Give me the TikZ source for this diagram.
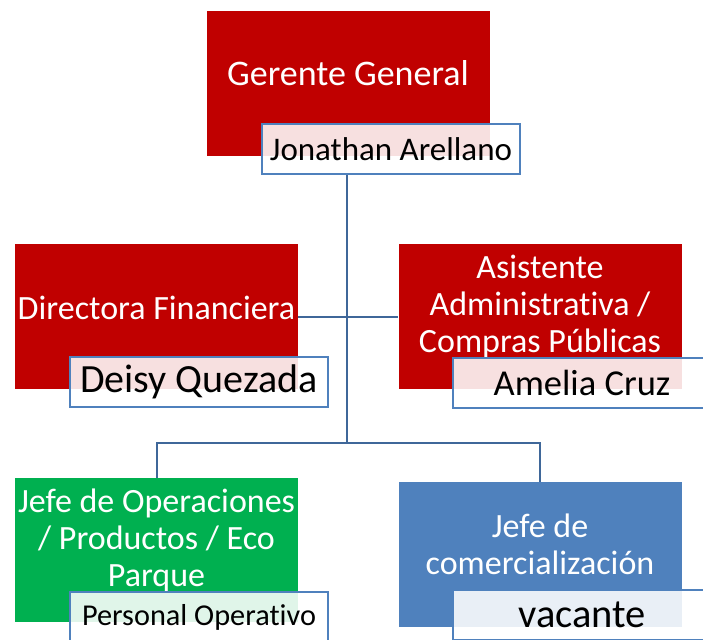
\documentclass[tikz,border=0pt]{standalone}
\usepackage{fontspec}
\setmainfont{Carlito}[Ligatures=NoCommon]
\usetikzlibrary{positioning}
\definecolor{cargored}{HTML}{C00000}
\definecolor{cargogreen}{HTML}{00B050}
\definecolor{cargoblue}{HTML}{4F81BD}
\definecolor{linkblue}{HTML}{3F6799}
\tikzset{cargo box/.style={rectangle,draw=none,minimum width=283pt,minimum height=145pt,inner sep=0pt},
         cargo text/.style={rectangle,text=white,align=center,inner sep=0pt,font=\fontsize{34}{37}\selectfont},
         name box/.style={rectangle,draw=cargoblue,line width=2pt,fill=white,fill opacity=0.88,text opacity=1,draw opacity=1,
                          minimum width=258pt,minimum height=50pt,inner sep=0pt},
         link/.style={draw=linkblue,line width=2pt},
}
\begin{document}
\begin{tikzpicture}[x=1pt,y=-1pt]

\useasboundingbox (0,0) rectangle (703,639);
\clip (0,0) rectangle (703,639);
% \draw[help lines,step=50] (0,0) grid (703,639);

% cargos
\node[cargo box,fill=cargored] (gg) at (348,83.5){};
\node[cargo text,font=\fontsize{36}{37}\selectfont] at ([yshift=10pt]gg.center){Gerente General};
\node[cargo box,fill=cargored] (df) at (156.5,316.5){};
\node[cargo text] at ([yshift=9pt]df.center){Directora Financiera};
\node[cargo box,fill=cargored] (aa) at (540,316.5){};
\node[cargo text] at ([yshift=10pt]aa.center){Asistente\\Administrativa /\\Compras Públicas};
\node[cargo box,fill=cargogreen,minimum height=144pt] (jo) at (156.5,550){};
\node[cargo text] at ([yshift=10pt]jo.center){Jefe de Operaciones\\/ Productos / Eco\\Parque};
\node[cargo box,fill=cargoblue] (jc) at (540,554.5){};
\node[cargo text] at ([yshift=10pt]jc.center){Jefe de\\comercialización};

% nombres
\node[name box,font=\fontsize{33}{37}\selectfont] (n1) at (391,149){Jonathan Arellano};
\node[name box,font=\fontsize{40}{40}\selectfont] (n2) at (199,382){Deisy Quezada};
\node[name box,font=\fontsize{36.5}{40}\selectfont] (n3) at (582,382.5){Amelia Cruz};
\node[name box,font=\fontsize{30.3}{34}\selectfont] (n4) at (199,617){Personal Operativo};
\node[name box,font=\fontsize{40.5}{40}\selectfont] (n5) at (582,615){vacante};

% lineas
\coordinate (hub) at (347,443);
\draw[link] (hub |- n1.south) -- (hub);
\draw[link] (df.east) -- (aa.west);
\draw[link] (jo.north) |- (hub) -| (jc.north);
\end{tikzpicture}
\end{document}
